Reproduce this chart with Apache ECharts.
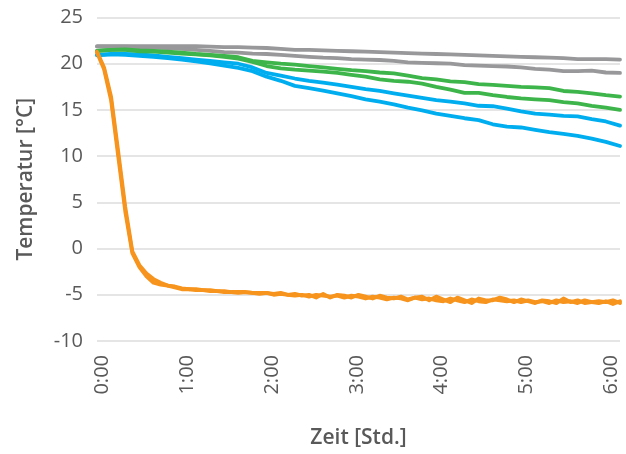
<!DOCTYPE html>
<html>
<head>
<meta charset="utf-8">
<script src="https://cdn.jsdelivr.net/npm/echarts@6/dist/echarts.min.js"></script>
<style>
  html, body { margin: 0; padding: 0; background: #ffffff; }
  #chart { width: 626px; height: 454px; }
</style>
</head>
<body>
<div id="chart"></div>
<script>
// Time axis in minutes; slow series every 10 min, fast (orange) series every 5 min
const minutesCoarse = [0,10,20,30,40,50,60,70,80,90,100,110,120,130,140,150,160,170,180,190,200,210,220,230,240,250,260,270,280,290,300,310,320,330,340,350,360,370];
const minutesFine = [0,5,10,15,20,25,30,35,40,45,50,55,60,65,70,75,80,85,90,95,100,105,110,115,120,125,130,135,140,145,150,155,160,165,170,175,180,185,190,195,200,205,210,215,220,225,230,235,240,245,250,255,260,265,270,275,280,285,290,295,300,305,310,315,320,325,330,335,340,345,350,355,360,365,370];

const xTickLabels = ['0:00','1:00','2:00','3:00','4:00','5:00','6:00'];
const yTicks = [-10, -5, 0, 5, 10, 15, 20, 25];

// Temperatures in °C
const grey1 = [21.9,21.9,21.9,21.9,21.9,21.9,21.9,21.9,21.85,21.8,21.8,21.75,21.7,21.6,21.5,21.5,21.45,21.4,21.35,21.3,21.25,21.2,21.15,21.1,21.05,21.0,20.95,20.9,20.85,20.8,20.75,20.7,20.65,20.6,20.5,20.5,20.5,20.45];
const grey2 = [21.85,21.85,21.85,21.8,21.75,21.7,21.6,21.5,21.4,21.25,21.2,21.1,21.05,20.95,20.85,20.75,20.65,20.6,20.5,20.45,20.4,20.3,20.15,20.1,20.05,20.0,19.85,19.8,19.75,19.7,19.6,19.45,19.35,19.2,19.2,19.25,19.05,19.0];
const green1 = [21.4,21.5,21.55,21.45,21.4,21.3,21.2,21.05,20.95,20.85,20.7,20.3,20.15,20.0,19.9,19.75,19.6,19.45,19.3,19.2,19.05,18.95,18.7,18.45,18.3,18.1,18.0,17.8,17.7,17.6,17.5,17.45,17.35,17.05,16.95,16.8,16.6,16.45];
const green2 = [21.4,21.5,21.5,21.35,21.3,21.2,21.1,21.0,20.9,20.75,20.55,20.2,19.75,19.5,19.35,19.25,19.15,19.0,18.8,18.6,18.3,18.15,18.05,17.85,17.5,17.2,16.85,16.85,16.6,16.4,16.25,16.15,16.05,15.85,15.7,15.45,15.25,15.0];
const blue1 = [20.95,21.05,21.05,21.0,20.9,20.75,20.6,20.45,20.3,20.15,20.0,19.6,19.0,18.7,18.4,18.15,17.95,17.75,17.5,17.25,17.05,16.8,16.55,16.3,16.05,15.9,15.7,15.45,15.4,15.15,14.85,14.6,14.5,14.35,14.3,14.0,13.75,13.3];
const blue2 = [20.9,21.0,20.95,20.85,20.75,20.6,20.45,20.25,20.05,19.8,19.55,19.2,18.6,18.15,17.6,17.35,17.1,16.8,16.5,16.15,15.9,15.6,15.25,14.95,14.6,14.35,14.1,13.9,13.45,13.2,13.1,12.85,12.6,12.4,12.2,11.9,11.55,11.1];
const orange1 = [21.3,19.6,16.4,10.5,4.5,-0.3,-1.8,-2.7,-3.3,-3.7,-4.0,-4.1,-4.3,-4.4,-4.4,-4.5,-4.5,-4.6,-4.6,-4.7,-4.7,-4.7,-4.8,-4.8,-4.8,-4.9,-4.8,-5.0,-4.9,-5.1,-5.0,-5.3,-4.9,-5.3,-5.0,-5.1,-5.3,-5.0,-5.2,-5.4,-5.1,-5.3,-5.4,-5.2,-5.5,-5.3,-5.2,-5.6,-5.2,-5.5,-5.8,-5.3,-5.6,-5.9,-5.4,-5.6,-5.6,-5.3,-5.5,-5.8,-5.5,-5.7,-5.9,-5.6,-5.7,-5.9,-5.4,-5.8,-5.6,-5.9,-5.8,-5.7,-5.8,-5.6,-5.9];
const orange2 = [21.2,19.4,16.0,10.0,4.0,-0.5,-2.0,-3.0,-3.7,-3.9,-4.0,-4.2,-4.4,-4.4,-4.5,-4.5,-4.6,-4.6,-4.7,-4.7,-4.8,-4.7,-4.8,-4.9,-4.8,-5.0,-4.9,-5.0,-5.1,-5.0,-5.2,-5.0,-5.1,-5.2,-5.1,-5.3,-5.1,-5.2,-5.4,-5.2,-5.3,-5.5,-5.3,-5.4,-5.6,-5.3,-5.5,-5.4,-5.6,-5.7,-5.4,-5.6,-5.8,-5.5,-5.7,-5.8,-5.5,-5.6,-5.7,-5.6,-5.8,-5.6,-5.8,-5.7,-5.9,-5.6,-5.8,-5.7,-5.9,-5.6,-5.8,-5.9,-5.7,-6.0,-5.7];

const COLORS = { grey: '#98989b', green: '#3db54a', blue: '#00aeef', orange: '#f7941d' };
const TEXT = '#595959';
const FONT = 'Open Sans';

function pairs(xs, ys) { return xs.map((x, i) => [x, ys[i]]); }

function lineSeries(name, xs, ys, color) {
  return {
    name, type: 'line', data: pairs(xs, ys),
    showSymbol: false, symbol: 'none',
    lineStyle: { color, width: 3.8, join: 'round', cap: 'round' },
    animation: false
  };
}

const chart = echarts.init(document.getElementById('chart'), null, { renderer: 'canvas' });
chart.setOption({
  backgroundColor: '#ffffff',
  animation: false,
  grid: { left: 97, right: 6, top: 17.5, bottom: 112.3, containLabel: false },
  xAxis: {
    type: 'value', min: 0, max: 370, interval: 60,
    name: 'Zeit [Std.]', nameLocation: 'middle', nameGap: 87,
    nameTextStyle: { color: TEXT, fontFamily: FONT, fontSize: 21, fontWeight: 600 },
    axisLine: { show: false }, axisTick: { show: false }, splitLine: { show: false },
    axisLabel: {
      rotate: 90, margin: 14, color: TEXT, fontFamily: FONT, fontSize: 20,
      showMaxLabel: false,
      formatter: v => (v % 60 === 0 ? '{t|' + xTickLabels[v / 60] + '}' : ''),
      rich: {
        t: { color: TEXT, fontFamily: FONT, fontSize: 20, padding: [11, 0, 0, 0] }
      }
    }
  },
  yAxis: {
    type: 'value', min: yTicks[0], max: yTicks[yTicks.length - 1], interval: 5,
    name: 'Temperatur [°C]', nameLocation: 'middle', nameGap: 60,
    nameTextStyle: { color: TEXT, fontFamily: FONT, fontSize: 21, fontWeight: 600 },
    axisLine: { show: false }, axisTick: { show: false },
    splitLine: { lineStyle: { color: '#dcdcdc', width: 1.5 } },
    axisLabel: { margin: 14, color: TEXT, fontFamily: FONT, fontSize: 20 }
  },
  series: [
    lineSeries('Grau 1', minutesCoarse, grey1, COLORS.grey),
    lineSeries('Grau 2', minutesCoarse, grey2, COLORS.grey),
    lineSeries('Blau 1', minutesCoarse, blue1, COLORS.blue),
    lineSeries('Blau 2', minutesCoarse, blue2, COLORS.blue),
    lineSeries('Grün 1', minutesCoarse, green1, COLORS.green),
    lineSeries('Grün 2', minutesCoarse, green2, COLORS.green),
    lineSeries('Orange 1', minutesFine, orange1, COLORS.orange),
    lineSeries('Orange 2', minutesFine, orange2, COLORS.orange)
  ]
});
</script>
</body>
</html>
